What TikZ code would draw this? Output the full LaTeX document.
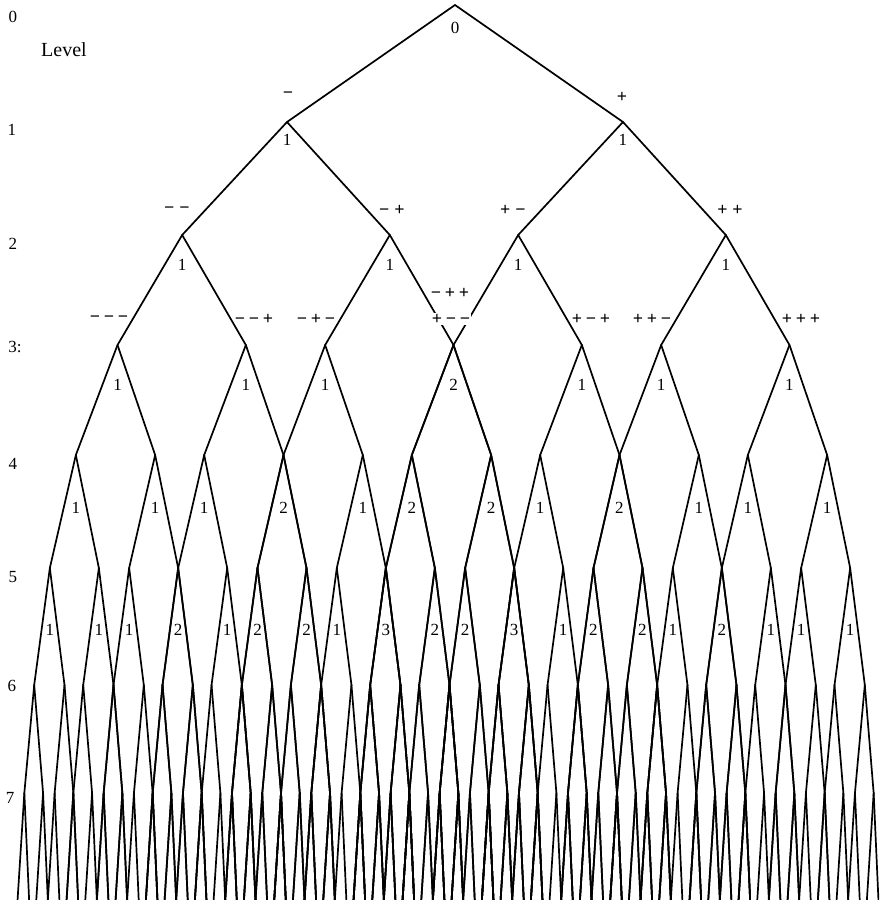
\documentclass[tikz,border=0pt]{standalone}
\usepackage{fontspec}
\setmainfont{Liberation Serif}
\newcommand\gpa{\kern5pt}
\newcommand\gpb{\kern3.8pt}
\newcommand\mybranch[3]{%
  \ifnum#1<8\relax
    \begingroup
    \pgfmathtruncatemacro\kk{#1+1}%
    \pgfmathsetmacro\ww{\wone*pow(\rr,#1)}%
    \pgfmathsetmacro\om{#3-\ww}%
    \pgfmathsetmacro\op{#3+\ww}%
    \pgfmathsetmacro\yy{\levY[\kk]}%
    \pgfmathsetmacro\cc{\levC[\kk]}%
    \coordinate (#2m) at ({\cc+\om},{-\yy});
    \coordinate (#2p) at ({\cc+\op},{-\yy});
    \draw[br] (#2) -- (#2m);
    \draw[br] (#2) -- (#2p);
    \edef\next{\noexpand\mybranch{\kk}{#2m}{\om}\noexpand\mybranch{\kk}{#2p}{\op}}%
    \expandafter\endgroup\next
  \fi}
\begin{document}
\begin{tikzpicture}[x=1pt,y=1pt,
  br/.style={line width=1.7pt, line cap=round, line join=round},
  cnt/.style={font=\fontsize{17}{17}\selectfont, inner sep=0pt},
  sgn/.style={font=\fontsize{18}{18}\selectfont\bfseries, inner sep=1pt},
  lev/.style={font=\fontsize{17}{17}\selectfont, inner sep=0pt}]
\useasboundingbox (0,0) rectangle (879,-900);
\def\wone{168}
\def\rr{0.618034}
\def\levY{{5,122,235,345,455,568,685,793,900}}
\def\levC{{455,455,454,453.5,451.5,450,449.5,449,448}}
\begin{scope}
\clip (0,0) rectangle (879,-900);
\coordinate (r) at (455,-5);
\mybranch{0}{r}{0}
\end{scope}
% level numbers
\node[lev] (l0) at (13,-17) {0};
\node[lev,font=\fontsize{20}{20}\selectfont] (lw) at (64,-50) {Level};
\node[lev] (l1) at (12,-130) {1};
\node[lev] (l2) at (13,-244) {2};
\node[lev] (l3) at (15,-347) {3:};
\node[lev] (l4) at (13,-464) {4};
\node[lev] (l5) at (13,-577) {5};
\node[lev] (l6) at (12,-686) {6};
\node[lev] (l7) at (10,-798) {7};
% sign sequences
\node[sgn] (s1a) at (288,-95) {−};
\node[sgn] (s1b) at (622,-97) {+};
\node[sgn] (s2a) at (177,-210) {−\gpa−};
\node[sgn] (s2b) at (392,-210) {−\gpa+};
\node[sgn] (s2c) at (513,-210) {+\gpa−};
\node[sgn] (s2d) at (730,-210) {+\gpa+};
\node[sgn] (s3a) at (109,-319) {−\gpb−\gpb−};
\node[sgn] (s3b) at (254,-319) {−\gpb−\gpb+};
\node[sgn] (s3c) at (316,-319) {−\gpb+\gpb−};
\node[sgn] (s3d) at (450,-293) {−\gpb+\gpb+};
\node[sgn,fill=white] (s3e) at (451,-319) {+\gpb−\gpb−};
\node[sgn] (s3f) at (591,-319) {+\gpb−\gpb+};
\node[sgn] (s3g) at (652,-319) {+\gpb+\gpb−};
\node[sgn] (s3h) at (801,-319) {+\gpb+\gpb+};
% counts
\pgfmathsetmacro\wf{\wone*pow(\rr,4)}
\node[cnt] (c0) at (455,-28) {0};
\foreach \v/\c [count=\i] in {-6.854/1,6.854/1}
  \node[cnt] (c1-\i) at ({455+\v*\wf},-140) {\c};
\foreach \v/\c [count=\i] in {-11.090/1,-2.618/1,2.618/1,11.090/1}
  \node[cnt] (c2-\i) at ({454+\v*\wf},-265) {\c};
\foreach \v/\c [count=\i] in {-13.708/1,-8.472/1,-5.236/1,0/2,5.236/1,8.472/1,13.708/1}
  \node[cnt] (c3-\i) at ({453.5+\v*\wf},-385) {\c};
\foreach \v/\c [count=\i] in {-15.326/1,-12.090/1,-10.090/1,-6.854/2,-3.618/1,-1.618/2,1.618/2,3.618/1,6.854/2,10.090/1,12.090/1,15.326/1}
  \node[cnt] (c4-\i) at ({451.5+\v*\wf},-508) {\c};
\foreach \v/\c [count=\i] in {-16.326/1,-14.326/1,-13.090/1,-11.090/2,-9.090/1,-7.854/2,-5.854/2,-4.618/1,-2.618/3,-0.618/2,0.618/2,2.618/3,4.618/1,5.854/2,7.854/2,9.090/1,11.090/2,13.090/1,14.326/1,16.326/1}
  \node[cnt] (c5-\i) at ({450+\v*\wf},-630) {\c};
\end{tikzpicture}
\end{document}
